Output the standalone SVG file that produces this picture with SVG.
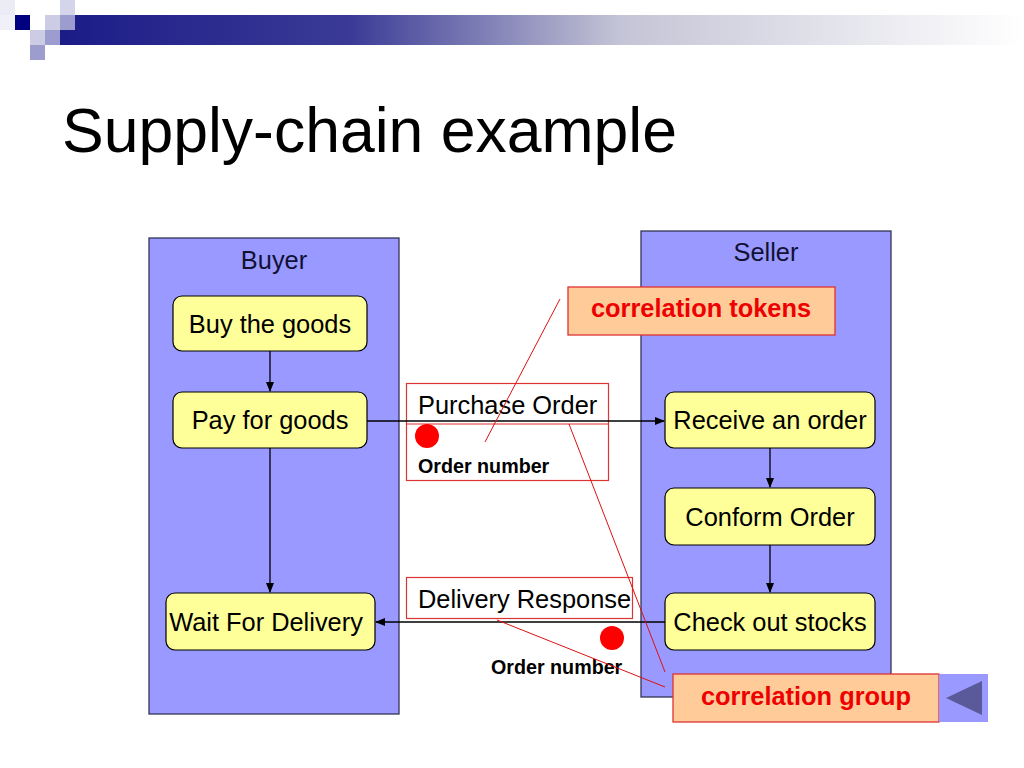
<svg xmlns="http://www.w3.org/2000/svg" width="1024" height="768" viewBox="0 0 1024 768">
<defs>
<linearGradient id="bar" x1="0" y1="0" x2="1" y2="0">
<stop offset="0" stop-color="#1c1c88"/>
<stop offset="0.3" stop-color="#3a3a96"/>
<stop offset="0.58" stop-color="#c4c4d6"/>
<stop offset="1" stop-color="#ffffff"/>
</linearGradient>
<marker id="arr" markerWidth="10" markerHeight="8" refX="9" refY="4" orient="auto" markerUnits="userSpaceOnUse">
<path d="M0,0 L10,4 L0,8 Z" fill="#000"/>
</marker>
</defs>
<style>
.lane{fill:#9999ff;stroke:#333355;stroke-width:1.3}
.node{fill:#ffff99;stroke:#000;stroke-width:1.2}
.t{font-family:"Liberation Sans",Arial,sans-serif;font-size:25.4px;fill:#000}
.lt{font-family:"Liberation Sans",Arial,sans-serif;font-size:25.4px;fill:#111133}
.b{font-family:"Liberation Sans",Arial,sans-serif;font-size:19.7px;font-weight:bold;fill:#000}
.ct{font-family:"Liberation Sans",Arial,sans-serif;font-size:25.4px;font-weight:bold;fill:#ee0000}
.corr{fill:#ffcc99;stroke:#dd3333;stroke-width:1.3}
.msg{fill:none;stroke:#dd3333;stroke-width:1.2}
.rl{stroke:#dd1111;stroke-width:1;fill:none}
.conn{stroke:#000;stroke-width:1.3;fill:none}
</style>
<rect width="1024" height="768" fill="#fff"/>
<g id="header">
<rect x="60" y="15" width="964" height="30" fill="url(#bar)"/>
<rect x="0" y="0" width="15" height="15" fill="#ececf6"/>
<rect x="0" y="15" width="15" height="15" fill="#f0f0f8"/>
<rect x="15" y="15" width="15" height="15" fill="#000080"/>
<rect x="45" y="15" width="15" height="15" fill="#ccccE4"/>
<rect x="60" y="0" width="15" height="15" fill="#d4d4ea"/>
<rect x="60" y="15" width="15" height="15" fill="#9c9cce"/>
<rect x="30" y="30" width="15" height="15" fill="#ccccE4"/>
<rect x="45" y="30" width="15" height="15" fill="#9c9cce"/>
<rect x="30" y="45" width="15" height="15" fill="#9c9cce"/>
</g>
<text x="62" y="152" font-family="Liberation Sans, Arial, sans-serif" font-size="62.5" fill="#000">Supply-chain example</text>
<g id="lane-buyer">
<rect class="lane" x="149" y="238" width="250" height="476"/>
<text class="lt" x="274" y="269" text-anchor="middle">Buyer</text>
</g>
<g id="lane-seller">
<rect class="lane" x="641" y="231" width="250" height="466"/>
<text class="lt" x="766" y="261" text-anchor="middle">Seller</text>
</g>
<g id="msg-purchase">
<rect class="msg" x="406.5" y="383.5" width="202" height="97"/>
<line class="msg" x1="406.5" y1="424" x2="608.5" y2="424"/>
<text class="t" x="418" y="414">Purchase Order</text>
<circle cx="427" cy="436" r="12" fill="#ff0000"/>
<text class="b" x="418" y="473">Order number</text>
</g>
<g id="msg-delivery">
<rect class="msg" x="406.5" y="577.5" width="226" height="41"/>
<text class="t" x="418" y="608">Delivery Response</text>
<circle cx="612" cy="638" r="12" fill="#ff0000"/>
<text class="b" x="491" y="674">Order number</text>
</g>
<g id="n-buy"><rect class="node" x="173" y="296" width="194" height="55" rx="9"/><text class="t" x="270" y="333" text-anchor="middle">Buy the goods</text></g>
<g id="n-pay"><rect class="node" x="173" y="392" width="194" height="56" rx="9"/><text class="t" x="270" y="429" text-anchor="middle">Pay for goods</text></g>
<g id="n-wait"><rect class="node" x="166" y="593" width="209" height="57" rx="9"/><text class="t" x="266" y="631" text-anchor="middle">Wait For Delivery</text></g>
<g id="n-receive"><rect class="node" x="665" y="392" width="210" height="56" rx="9"/><text class="t" x="770" y="429" text-anchor="middle">Receive an order</text></g>
<g id="n-conform"><rect class="node" x="665" y="488" width="210" height="57" rx="9"/><text class="t" x="770" y="526" text-anchor="middle">Conform Order</text></g>
<g id="n-check"><rect class="node" x="665" y="593" width="210" height="57" rx="9"/><text class="t" x="770" y="631" text-anchor="middle">Check out stocks</text></g>
<g id="connectors">
<line class="conn" x1="270" y1="351" x2="270" y2="391" marker-end="url(#arr)"/>
<line class="conn" x1="270" y1="448" x2="270" y2="592" marker-end="url(#arr)"/>
<line class="conn" x1="367" y1="421" x2="664" y2="421" marker-end="url(#arr)"/>
<line class="conn" x1="770" y1="448" x2="770" y2="487" marker-end="url(#arr)"/>
<line class="conn" x1="770" y1="545" x2="770" y2="592" marker-end="url(#arr)"/>
<line class="conn" x1="665" y1="622" x2="376" y2="622" marker-end="url(#arr)"/>
</g>
<g id="corr-lines">
<line class="rl" x1="560" y1="299" x2="485" y2="442"/>
<line class="rl" x1="569" y1="424" x2="665" y2="672"/>
<line class="rl" x1="497" y1="620" x2="665" y2="687"/>
</g>
<g id="corr-tokens">
<rect class="corr" x="568" y="287" width="267" height="48"/>
<text class="ct" x="701" y="317" text-anchor="middle">correlation tokens</text>
</g>
<g id="corr-group">
<rect class="corr" x="673" y="674" width="266" height="48"/>
<text class="ct" x="806" y="705" text-anchor="middle">correlation group</text>
</g>
<g id="nav-button">
<rect x="939" y="674" width="49" height="48" fill="#9999ff"/>
<polygon points="946,698 982,681 982,715" fill="#5a5a9a"/>
</g>
</svg>
